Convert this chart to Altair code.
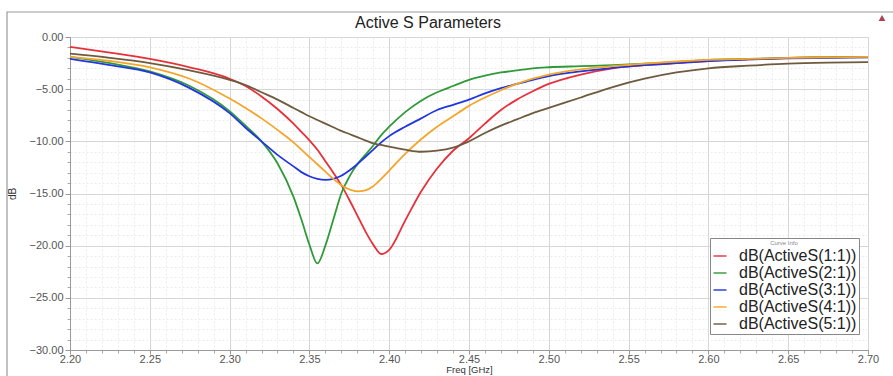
import altair as alt
import pandas as pd

freq = [2.20, 2.225, 2.25, 2.275, 2.30, 2.31, 2.32, 2.33, 2.34, 2.345, 2.35, 2.355,
        2.36, 2.365, 2.37, 2.375, 2.38, 2.385, 2.39, 2.395, 2.40, 2.41, 2.42, 2.43,
        2.44, 2.45, 2.46, 2.47, 2.48, 2.49, 2.50, 2.52, 2.54, 2.56, 2.58, 2.60,
        2.625, 2.65, 2.675, 2.70]

s1 = [-0.95, -1.5, -2.1, -2.9, -4.0, -4.7, -5.7, -6.9, -8.3, -9.1, -9.9, -10.8,
      -11.9, -13.0, -14.2, -15.6, -17.1, -18.6, -19.9, -20.8, -20.4, -17.6, -14.8, -12.6,
      -10.9, -9.7, -8.3, -7.0, -6.0, -5.2, -4.5, -3.6, -3.0, -2.7, -2.5, -2.3,
      -2.15, -2.0, -1.95, -1.9]
s2 = [-1.9, -2.5, -3.3, -4.7, -7.1, -8.5, -10.0, -12.1, -15.3, -17.5, -19.9, -21.7,
      -20.0, -17.5, -15.0, -13.4, -12.2, -11.3, -10.4, -9.4, -8.6, -7.2, -6.1, -5.3,
      -4.7, -4.1, -3.7, -3.4, -3.2, -3.0, -2.9, -2.8, -2.7, -2.55, -2.4, -2.2,
      -2.1, -2.0, -1.95, -1.9]
s3 = [-2.1, -2.7, -3.4, -4.9, -7.3, -8.7, -10.0, -11.3, -12.4, -12.95, -13.35, -13.6,
      -13.7, -13.6, -13.3, -12.8, -12.2, -11.5, -10.8, -10.1, -9.5, -8.6, -7.8, -7.0,
      -6.5, -6.0, -5.4, -4.9, -4.5, -4.1, -3.75, -3.3, -2.95, -2.7, -2.5, -2.3,
      -2.15, -2.05, -2.0, -1.95]
s4 = [-1.9, -2.3, -2.9, -4.0, -5.9, -6.8, -7.8, -8.9, -10.1, -10.8, -11.5, -12.2,
      -12.9, -13.6, -14.2, -14.6, -14.8, -14.7, -14.3, -13.6, -12.8, -11.2, -9.8, -8.6,
      -7.6, -6.6, -5.8, -5.1, -4.5, -4.0, -3.6, -3.1, -2.8, -2.55, -2.35, -2.2,
      -2.1, -2.0, -1.95, -1.9]
s5 = [-1.6, -2.0, -2.5, -3.2, -4.1, -4.6, -5.3, -6.0, -6.8, -7.2, -7.6, -7.95,
      -8.3, -8.65, -9.0, -9.3, -9.6, -9.9, -10.2, -10.35, -10.5, -10.8, -11.0, -10.9,
      -10.6, -10.0, -9.2, -8.5, -7.9, -7.3, -6.8, -5.8, -4.8, -4.0, -3.4, -3.0,
      -2.75, -2.55, -2.45, -2.4]

names = ["dB(ActiveS(1:1))", "dB(ActiveS(2:1))", "dB(ActiveS(3:1))",
         "dB(ActiveS(4:1))", "dB(ActiveS(5:1))"]
colors = ["#e8303a", "#2f9a38", "#2236e0", "#f5a52a", "#6f5a3e"]

major_x = [2.20, 2.25, 2.30, 2.35, 2.40, 2.45, 2.50, 2.55, 2.60, 2.65, 2.70]
major_y = [0, -5, -10, -15, -20, -25, -30]
minor_x = [round(2.20 + 0.01 * i, 2) for i in range(51)]
minor_y = [-i for i in range(31)]

rows = []
for name, vals in zip(names, [s1, s2, s3, s4, s5]):
    for f, v in zip(freq, vals):
        rows.append({"freq": f, "db": v, "trace": name})
df = pd.DataFrame(rows)

FONT = "Liberation Sans"
xscale = alt.Scale(domain=[2.2, 2.7], nice=False, zero=False)
yscale = alt.Scale(domain=[-30, 0], nice=False, zero=False)

minor = alt.Chart(df).mark_line(opacity=0).encode(
    x=alt.X("freq:Q", scale=xscale,
            axis=alt.Axis(orient="bottom", values=minor_x, labels=False, domain=False,
                          ticks=True, tickSize=3, tickColor="#aaaaaa", grid=True,
                          gridColor="#ececec", gridDash=[2, 2], title=None, zindex=0)),
    y=alt.Y("db:Q", scale=yscale,
            axis=alt.Axis(orient="left", values=minor_y, labels=False, domain=False,
                          ticks=True, tickSize=3, tickColor="#aaaaaa", grid=True,
                          gridColor="#ececec", gridDash=[2, 2], title=None, zindex=0)),
    detail="trace:N",
)

lines = alt.Chart(df).mark_line(strokeWidth=1.8, interpolate="monotone").encode(
    x=alt.X("freq:Q", scale=xscale,
            axis=alt.Axis(orient="bottom", values=major_x, format=".2f", title="Freq [GHz]",
                          titleFontSize=9.5, titleFont=FONT, titleFontWeight="normal",
                          titleColor="#333333", titlePadding=0,
                          labelFont=FONT, labelFontSize=11, labelColor="#555555",
                          labelPadding=-1, tickSize=4, tickColor="#999999",
                          domainColor="#999999", grid=True, gridColor="#d6d6d6",
                          labelFlush=False, zindex=0)),
    y=alt.Y("db:Q", scale=yscale,
            axis=alt.Axis(orient="left", values=major_y, format=".2f", title="dB",
                          titleFontSize=10, titleFont=FONT, titleFontWeight="normal",
                          titleColor="#333333", titlePadding=12,
                          labelFont=FONT, labelFontSize=11, labelColor="#555555",
                          labelPadding=2, tickSize=5, tickColor="#999999",
                          domainColor="#999999", grid=True, gridColor="#d6d6d6",
                          zindex=0)),
    color=alt.Color("trace:N", scale=alt.Scale(domain=names, range=colors),
                    legend=alt.Legend(orient="none", legendX=640, legendY=201,
                                      title="Curve Info", titleFontSize=6,
                                      titleFont=FONT, titleFontWeight="normal",
                                      titleColor="#888888", titleAnchor="middle",
                                      titlePadding=2,
                                      labelFont=FONT, labelFontSize=16,
                                      labelColor="#222222", labelLimit=300,
                                      labelOffset=11,
                                      symbolType="stroke", symbolSize=170,
                                      symbolStrokeWidth=2, symbolOpacity=0.7,
                                      rowPadding=1, padding=2,
                                      fillColor="white", strokeColor="#888888")),
)

one = pd.DataFrame({"k": [0]})
frame = alt.Chart(one).mark_rect(fill=None, stroke="#999999", strokeWidth=1.2).encode(
    x=alt.value(-63), y=alt.value(-25), x2=alt.value(860), y2=alt.value(400)
)
tri = alt.Chart(one).mark_point(shape="triangle-up", filled=True, color="#b04050",
                                size=45, opacity=1).encode(
    x=alt.value(812), y=alt.value(-19)
)

chart = alt.layer(minor, lines, frame, tri).resolve_axis(
    x="independent", y="independent"
).properties(
    width=798, height=313,
    title=alt.TitleParams("Active S Parameters", fontSize=16, font=FONT,
                          fontWeight="normal", color="#222222", dx=-41, offset=-20),
    autosize=alt.AutoSizeParams(type="none"),
    padding={"left": 70, "top": 37, "right": 25, "bottom": 26},
).configure_view(stroke="#999999")

chart.save("out.html", embed_options={"renderer": "svg", "actions": False})
